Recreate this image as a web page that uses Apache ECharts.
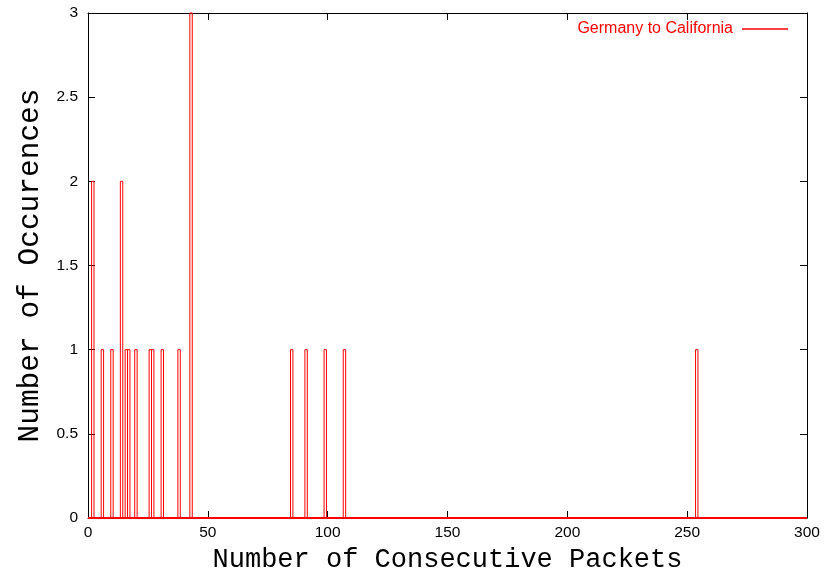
<!DOCTYPE html>
<html>
<head>
<meta charset="utf-8">
<script src="https://cdn.jsdelivr.net/npm/echarts@6/dist/echarts.min.js"></script>
<style>
html,body{margin:0;padding:0;background:#fff;}
#chart{width:836px;height:570px;}
</style>
</head>
<body>
<div id="chart"></div>
<script>
// Histogram data: number of consecutive packets -> number of occurrences
var packetCounts = [2, 6, 10, 14, 16, 17, 20, 26, 27, 31, 38, 43, 85, 91, 99, 107, 254];
var occurrences  = [2, 1, 1, 2, 1, 1, 1, 1, 1, 1, 1, 3, 1, 1, 1, 1, 1];
var xTicks = [0, 50, 100, 150, 200, 250, 300];
var yTicks = [0, 0.5, 1, 1.5, 2, 2.5, 3];
var seriesName = 'Germany to California';

var barData = packetCounts.map(function (x, i) { return [x, occurrences[i]]; });
var baseline = [[xTicks[0], 0], [xTicks[xTicks.length - 1], 0]];

var chart = echarts.init(document.getElementById('chart'));
var tickFont = { fontFamily: 'Liberation Sans', fontSize: 15.5, color: '#000' };
var titleFont = { fontFamily: 'Liberation Mono', color: '#000' };

chart.setOption({
  animation: false,
  backgroundColor: '#fff',
  grid: { left: 88, right: 29, top: 13, bottom: 52, containLabel: false, outerBoundsMode: 'none' },
  legend: {
    right: 48, top: 21, align: 'right', padding: 0,
    itemWidth: 46, itemHeight: 1.5, itemGap: 10,
    data: [{ name: seriesName, icon: 'rect', itemStyle: { color: '#ff0000' } }],
    textStyle: { color: '#ff0000', fontFamily: 'Liberation Sans', fontSize: 16, padding: [0, 4, 0, 0] },
    selectedMode: false
  },
  xAxis: [{
    type: 'value', min: 0, max: 300, interval: 50, position: 'bottom',
    name: 'Number of Consecutive Packets', nameLocation: 'middle', nameGap: 21,
    nameTextStyle: Object.assign({ fontSize: 27 }, titleFont),
    axisLine: { onZero: false, lineStyle: { color: '#000', width: 1 } },
    axisTick: { inside: true, length: 7, lineStyle: { color: '#000' } },
    axisLabel: Object.assign({ margin: 7 }, tickFont),
    splitLine: { show: false }
  }, {
    type: 'value', min: 0, max: 300, interval: 50, position: 'top',
    axisLine: { onZero: false, lineStyle: { color: '#000', width: 1 } },
    axisTick: { inside: true, length: 7, lineStyle: { color: '#000' } },
    axisLabel: { show: false }, splitLine: { show: false }
  }],
  yAxis: [{
    type: 'value', min: 0, max: 3, interval: 0.5, position: 'left',
    name: 'Number of Occurences', nameLocation: 'middle', nameGap: 42, nameRotate: 90,
    nameTextStyle: Object.assign({ fontSize: 29.5 }, titleFont),
    axisLine: { show: true, onZero: false, lineStyle: { color: '#000', width: 1 } },
    axisTick: { show: true, inside: true, length: 7, lineStyle: { color: '#000' } },
    axisLabel: Object.assign({ margin: 10 }, tickFont),
    splitLine: { show: false }
  }, {
    type: 'value', min: 0, max: 3, interval: 0.5, position: 'right',
    axisLine: { show: true, onZero: false, lineStyle: { color: '#000', width: 1 } },
    axisTick: { show: true, inside: true, length: 7, lineStyle: { color: '#000' } },
    axisLabel: { show: false }, splitLine: { show: false }
  }],
  series: [{
    name: seriesName,
    type: 'custom',
    xAxisIndex: 0, yAxisIndex: 0,
    data: barData,
    renderItem: function (params, api) {
      var x = api.value(0), y = api.value(1);
      var p0 = api.coord([x - 0.5, y]);
      var p1 = api.coord([x + 0.5, 0]);
      return {
        type: 'rect',
        shape: { x: p0[0], y: p0[1], width: p1[0] - p0[0], height: p1[1] - p0[1] },
        style: { fill: null, stroke: '#ff0000', lineWidth: 1 }
      };
    },
    z: 3
  }, {
    name: 'baseline',
    type: 'line',
    xAxisIndex: 0, yAxisIndex: 0,
    data: baseline,
    symbol: 'none',
    lineStyle: { color: '#ff0000', width: 2 },
    z: 4
  }]
});
</script>
</body>
</html>
